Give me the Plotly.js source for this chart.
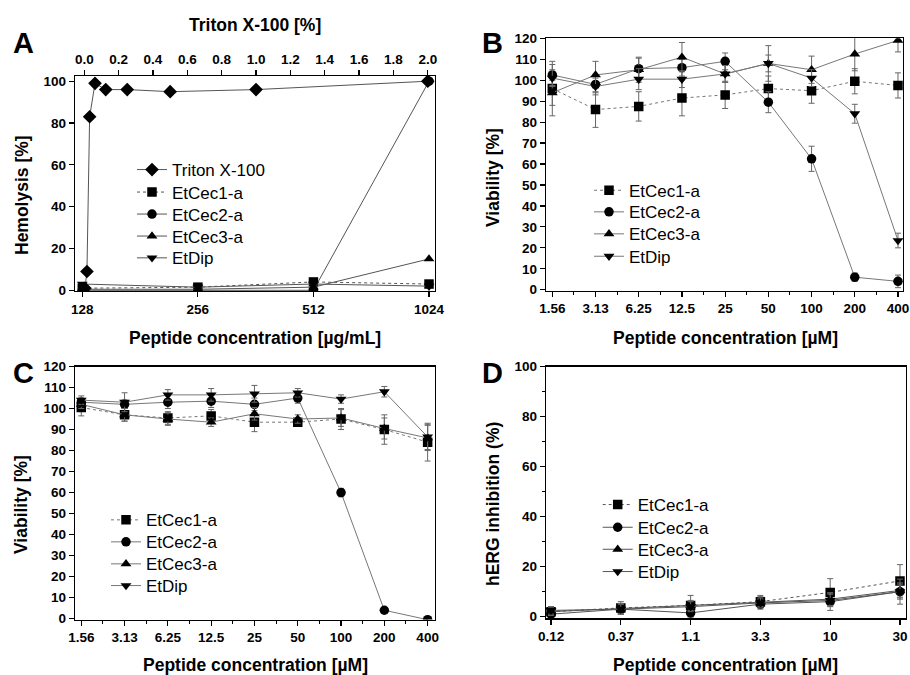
<!DOCTYPE html>
<html>
<head>
<meta charset="utf-8">
<script src="https://cdn.plot.ly/plotly-3.0.1.min.js"></script>
<style>html,body{margin:0;padding:0;background:#fff}#chart{width:910px;height:675px}</style>
</head>
<body>
<div id="chart"></div>
<script>
// ---------- DATA ----------
// Panel A: hemolysis
const tritonConc = [0.0039, 0.0156, 0.03125, 0.0625, 0.125, 0.25, 0.5, 1, 2];
const tritonHemo = [1, 9, 83, 99, 96, 96, 95, 96, 100];
const pepConcA = [128, 256, 512, 1024];
const cec1A = [1, 1.5, 4, 3];
const cec2A = [0, 0, 0, 100];
const cec3A = [0.5, 0.5, 1.5, 15];
const dipA = [3, 1.5, 3, 2];

// Panel B: viability
const concBC = ['1.56', '3.13', '6.25', '12.5', '25', '50', '100', '200', '400'];
const cec1B = [96, 86, 87.5, 91.5, 93, 96, 95, 99.5, 97.5];
const cec1Berr = [13, 8.5, 7, 8.5, 6.5, 6, 6, 6, 6];
const cec2B = [102.5, 98, 105.5, 106, 109, 89.5, 62.5, 6, 4];
const cec2Berr = [5, 4, 5, 4, 4, 5, 6, 2, 3];
const cec3B = [94, 102.5, 105, 111, 103, 108, 105, 112.5, 119];
const cec3Berr = [6, 6.5, 6, 7, 4, 8.5, 6.5, 8, 5.5];
const dipB = [101, 97, 100.5, 100.5, 103, 108, 101, 84, 23.5];
const dipBerr = [4, 4, 5, 4, 4, 4, 4, 4.5, 3.5];

// Panel C: viability
const cec1C = [100.5, 97, 95.5, 96.5, 93.5, 93.5, 95, 90, 84];
const cec1Cerr = [4, 3, 3, 3, 4.5, 2, 5, 7, 9];
const cec2C = [103, 102, 103, 103.5, 102, 105, 60, 4, -0.5];
const cec2Cerr = [2, 2, 3, 3, 3, 2.5, 2, 1, 1];
const cec3C = [102, 97, 95, 93.5, 97.5, 95, 95.5, 90.5, 86];
const cec3Cerr = [2, 3, 3, 2, 3, 2, 4, 5, 6];
const dipC = [104, 103, 106.5, 106.5, 107, 107.5, 104.5, 108, 86.5];
const dipCerr = [2, 4.5, 2.5, 3, 4, 2, 2, 2.5, 6];

// Panel D: hERG inhibition
const concD = ['0.12', '0.37', '1.1', '3.3', '10', '30'];
const cec1D = [2, 3.5, 4.5, 6, 9.7, 14.3];
const cec1Derr = [2, 2.5, 4, 2.5, 5.5, 6.5];
const cec2D = [1, 3, 1.5, 5, 6, 10];
const cec2Derr = [1.5, 2, 2, 2, 3.5, 3];
const cec3D = [2, 3.3, 4.5, 6, 7, 10.5];
const cec3Derr = [1.5, 2, 2, 2, 2.5, 3];
const dipD = [2.5, 3, 4, 5.5, 6.5, 10];
const dipDerr = [1.5, 2, 2, 2, 2.5, 5];

const names = ['EtCec1-a', 'EtCec2-a', 'EtCec3-a', 'EtDip'];

// ---------- STYLE ----------
const FONT = 'Liberation Sans, Arial, sans-serif';
const W = 910, H = 675;
const px = v => v / W;
const py = v => 1 - v / H;
const symbols = ['square', 'circle', 'triangle-up', 'triangle-down'];
const dashes = ['dot', 'solid', 'solid', 'solid'];
const idxBC = concBC.map((_, i) => i);
const idxD = concD.map((_, i) => i);
const midBC = idxBC.slice(1).map(i => i - 0.5);

// one legend box per entry, so the row spacing matches the reference
const legendSpec = {
  A: {textX: 172, rows: [170, 192.5, 214.5, 236.5, 258.3]},
  B: {textX: 629, rows: [190.7, 212.3, 234.3, 256.7]},
  C: {textX: 146, rows: [520.3, 542.3, 564.3, 586]},
  D: {textX: 637.7, rows: [505, 527.7, 549.7, 572]}
};
const legends = {};
let legendCount = 0;
function nextLegend(panel, row) {
  legendCount += 1;
  const key = 'legend' + (legendCount + 1);
  const s = legendSpec[panel];
  legends[key] = {
    visible: true,
    x: px(s.textX - 40), y: py(s.rows[row] - 18), xanchor: 'left', yanchor: 'top',
    bgcolor: 'rgba(0,0,0,0)', font: {family: FONT, size: 17, color: '#000'},
    itemwidth: 30, tracegroupgap: 0
  };
  return key;
}

function tr(x, y, err, k, xa, ya, panel, row, lineCol) {
  const t = {
    x: x, y: y, name: names[k], type: 'scatter', mode: 'lines+markers', showlegend: true,
    xaxis: xa, yaxis: ya, legend: nextLegend(panel, row),
    line: {color: lineCol, width: 1, dash: dashes[k]},
    marker: {symbol: symbols[k], size: 9.5, color: '#000'}
  };
  if (err) t.error_y = {type: 'data', array: err, visible: true, color: '#666', thickness: 1, width: 3};
  return t;
}

const data = [
  {x: tritonConc, y: tritonHemo, name: 'Triton X-100', type: 'scatter', mode: 'lines+markers',
   showlegend: true, xaxis: 'x2', yaxis: 'y', legend: nextLegend('A', 0),
   line: {color: '#555', width: 1}, marker: {symbol: 'diamond', size: 10.5, color: '#000'}},
  tr(pepConcA, cec1A, null, 0, 'x', 'y', 'A', 1, '#555'),
  tr(pepConcA, cec2A, null, 1, 'x', 'y', 'A', 2, '#555'),
  tr(pepConcA, cec3A, null, 2, 'x', 'y', 'A', 3, '#555'),
  tr(pepConcA, dipA, null, 3, 'x', 'y', 'A', 4, '#555'),

  tr(idxBC, cec1B, cec1Berr, 0, 'x3', 'y2', 'B', 0, '#777'),
  tr(idxBC, cec2B, cec2Berr, 1, 'x3', 'y2', 'B', 1, '#777'),
  tr(idxBC, cec3B, cec3Berr, 2, 'x3', 'y2', 'B', 2, '#777'),
  tr(idxBC, dipB, dipBerr, 3, 'x3', 'y2', 'B', 3, '#777'),

  tr(idxBC, cec1C, cec1Cerr, 0, 'x4', 'y3', 'C', 0, '#777'),
  tr(idxBC, cec2C, cec2Cerr, 1, 'x4', 'y3', 'C', 1, '#777'),
  tr(idxBC, cec3C, cec3Cerr, 2, 'x4', 'y3', 'C', 2, '#777'),
  tr(idxBC, dipC, dipCerr, 3, 'x4', 'y3', 'C', 3, '#777'),

  tr(idxD, cec1D, cec1Derr, 0, 'x5', 'y4', 'D', 0, '#555'),
  tr(idxD, cec2D, cec2Derr, 1, 'x5', 'y4', 'D', 1, '#555'),
  tr(idxD, cec3D, cec3Derr, 2, 'x5', 'y4', 'D', 2, '#555'),
  tr(idxD, dipD, dipDerr, 3, 'x5', 'y4', 'D', 3, '#555')
];

const tickFont = {family: FONT, size: 13.5, color: '#000', weight: 'bold'};
function ax(extra) {
  return Object.assign({
    showline: true, linecolor: '#000', linewidth: 1.3, mirror: true,
    ticks: 'outside', ticklen: 5, tickwidth: 1.2, tickcolor: '#000',
    showgrid: false, zeroline: false, tickfont: tickFont
  }, extra);
}

const dLeft = [px(75), px(435)];
const dB = [px(546), px(903)];
const dD = [px(546), px(905.7)];
const yTop = [py(291), py(76)];
const yBdom = [py(290.8), py(38.3)];
const yC = [py(619.5), py(366.5)];
const yDdom = [py(618.3), py(366.5)];

function ann(text, x, y, size, bold, angle) {
  return {text: text, x: px(x), y: py(y), xref: 'paper', yref: 'paper', showarrow: false,
          xanchor: 'center', yanchor: 'middle', textangle: angle || 0,
          font: {family: FONT, size: size, color: '#000', weight: bold ? 'bold' : 'normal'}};
}

const layout = Object.assign({
  width: W, height: H, margin: {l: 0, r: 0, t: 0, b: 0},
  showlegend: true,
  paper_bgcolor: '#fff', plot_bgcolor: '#fff',
  xaxis: ax({domain: dLeft, anchor: 'y', type: 'log', range: [2.0882, 3.0259],
             tickvals: pepConcA, ticktext: pepConcA.map(String)}),
  xaxis2: ax({domain: dLeft, anchor: 'y', overlaying: 'x', side: 'top', mirror: false,
              range: [-0.054, 2.042], tick0: 0, dtick: 0.2, tickformat: '.1f'}),
  yaxis: ax({domain: yTop, anchor: 'x', range: [-0.33, 102.5], tick0: 0, dtick: 20}),

  xaxis3: ax({domain: dB, anchor: 'y2', range: [-0.146, 8.116], tickmode: 'array',
              tickvals: idxBC, ticktext: concBC,
              minor: {tickmode: 'array', tickvals: midBC, ticks: 'outside', ticklen: 3, tickwidth: 1, tickcolor: '#000'}}),
  yaxis2: ax({domain: yBdom, anchor: 'x3', range: [-0.5, 120], tick0: 0, dtick: 10}),

  xaxis4: ax({domain: dLeft, anchor: 'y3', range: [-0.145, 8.17], tickmode: 'array',
              tickvals: idxBC, ticktext: concBC,
              minor: {tickmode: 'array', tickvals: midBC, ticks: 'outside', ticklen: 3, tickwidth: 1, tickcolor: '#000'}}),
  yaxis3: ax({domain: yC, anchor: 'x4', range: [-0.4, 120], tick0: 0, dtick: 10}),

  xaxis5: ax({domain: dD, anchor: 'y4', range: [-0.072, 5.082], tickmode: 'array',
              tickvals: idxD, ticktext: concD}),
  yaxis4: ax({domain: yDdom, anchor: 'x5', range: [-0.65, 100], tick0: 0, dtick: 20,
              minor: {tick0: 0, dtick: 10, ticks: 'outside', ticklen: 3, tickwidth: 1, tickcolor: '#000'}}),

  annotations: [
    ann('A', 23, 43, 29, true),
    ann('B', 493, 43, 29, true),
    ann('C', 23, 373, 29, true),
    ann('D', 493, 373, 29, true),
    ann('Triton X-100 [%]', 255, 25, 17.5, true),
    ann('Peptide concentration [µg/mL]', 255, 338, 17.5, true),
    ann('Peptide concentration [µM]', 725, 338, 17.5, true),
    ann('Peptide concentration [µM]', 255, 665, 17.5, true),
    ann('Peptide concentration [µM]', 725, 665, 17.5, true),
    ann('Hemolysis [%]', 22, 195, 17.5, true, -90),
    ann('Viability [%]', 493, 177, 17.5, true, -90),
    ann('Viability [%]', 21, 505, 17.5, true, -90),
    ann('hERG inhibition (%)', 493, 504, 17.5, true, -90)
  ]
}, legends);

Plotly.newPlot('chart', data, layout, {displayModeBar: false, staticPlot: true});
</script>
</body>
</html>
